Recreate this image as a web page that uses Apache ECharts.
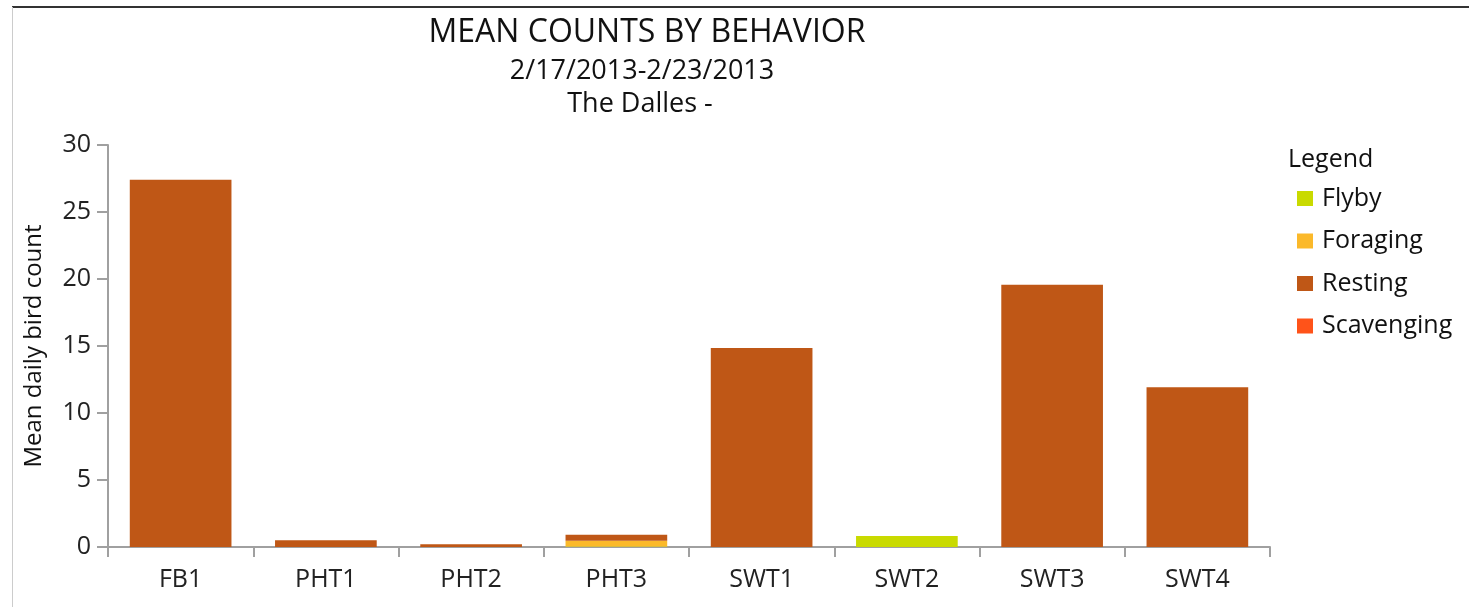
<!DOCTYPE html>
<html>
<head>
<meta charset="utf-8">
<script src="https://cdn.jsdelivr.net/npm/echarts@6/dist/echarts.min.js"></script>
<style>
html,body{margin:0;padding:0;background:#fff;}
#chart{width:1469px;height:607px;}
</style>
</head>
<body>
<div id="chart"></div>
<script>
const categories = ["FB1","PHT1","PHT2","PHT3","SWT1","SWT2","SWT3","SWT4"];
const flyby      = [0, 0, 0, 0.03, 0, 0.82, 0, 0];
const foraging   = [0, 0, 0, 0.43, 0, 0, 0, 0];
const resting    = [27.4, 0.5, 0.2, 0.45, 14.86, 0, 19.57, 11.93];
const scavenging = [0, 0, 0, 0, 0, 0, 0, 0];
const yTicks = [0, 5, 10, 15, 20, 25, 30];

const FONT = "Open Sans";
const chart = echarts.init(document.getElementById('chart'));
const seriesDefs = [
  {name: "Flyby", data: flyby, color: "#c9da00"},
  {name: "Foraging", data: foraging, color: "#fbb92a"},
  {name: "Resting", data: resting, color: "#bf5716"},
  {name: "Scavenging", data: scavenging, color: "#ff5319"}
];
chart.setOption({
  animation: false,
  backgroundColor: "#fff",
  textStyle: {fontFamily: FONT},
  title: [
    {text: "MEAN COUNTS BY BEHAVIOR", left: 642, top: 12, textAlign: "center",
     textStyle: {fontFamily: FONT, fontSize: 32, fontWeight: "normal", color: "#111"}},
    {text: "2/17/2013-2/23/2013", left: 637, top: 53, textAlign: "center",
     textStyle: {fontFamily: FONT, fontSize: 27, fontWeight: "normal", color: "#111"}},
    {text: "The Dalles -", left: 635, top: 86, textAlign: "center",
     textStyle: {fontFamily: FONT, fontSize: 27, fontWeight: "normal", color: "#111"}},
    {text: "Legend", left: 1283, top: 142,
     textStyle: {fontFamily: FONT, fontSize: 25, fontWeight: "normal", color: "#111"}}
  ],
  legend: {
    orient: "vertical", left: 1292, top: 181,
    itemWidth: 16, itemHeight: 15, itemGap: 17.5,
    icon: "rect",
    textStyle: {fontFamily: FONT, fontSize: 25, color: "#111", padding: [0,0,0,4]},
    data: seriesDefs.map(s => s.name)
  },
  grid: {left: 108, right: 199, top: 145, bottom: 60, containLabel: false},
  xAxis: {
    type: "category", data: categories,
    axisLine: {lineStyle: {color: "#a0a0a0", width: 2}},
    axisTick: {show: true, alignWithLabel: false, length: 10, lineStyle: {color: "#a0a0a0", width: 2}},
    axisLabel: {fontFamily: FONT, fontSize: 25, color: "#222", margin: 20}
  },
  yAxis: {
    type: "value", min: 0, max: 30, interval: 5,
    name: "Mean daily bird count", nameLocation: "middle", nameGap: 62,
    nameTextStyle: {fontFamily: FONT, fontSize: 24, color: "#111"},
    axisLine: {show: true, lineStyle: {color: "#a0a0a0", width: 2}},
    axisTick: {show: true, length: 11, lineStyle: {color: "#a0a0a0", width: 2}},
    axisLabel: {fontFamily: FONT, fontSize: 25, color: "#222", margin: 17,
      formatter: v => yTicks.includes(v) ? String(v) : ""},
    splitLine: {show: false}
  },
  series: seriesDefs.map(s => ({
    name: s.name, type: "bar", stack: "total", data: s.data,
    barWidth: "70%", itemStyle: {color: s.color}
  })),
  graphic: [
    {type: "line", shape: {x1: 12, y1: 7, x2: 1469, y2: 7}, style: {stroke: "#333", lineWidth: 2}},
    {type: "line", shape: {x1: 12.5, y1: 7, x2: 12.5, y2: 607}, style: {stroke: "#ccc", lineWidth: 1}}
  ]
});
</script>
</body>
</html>
